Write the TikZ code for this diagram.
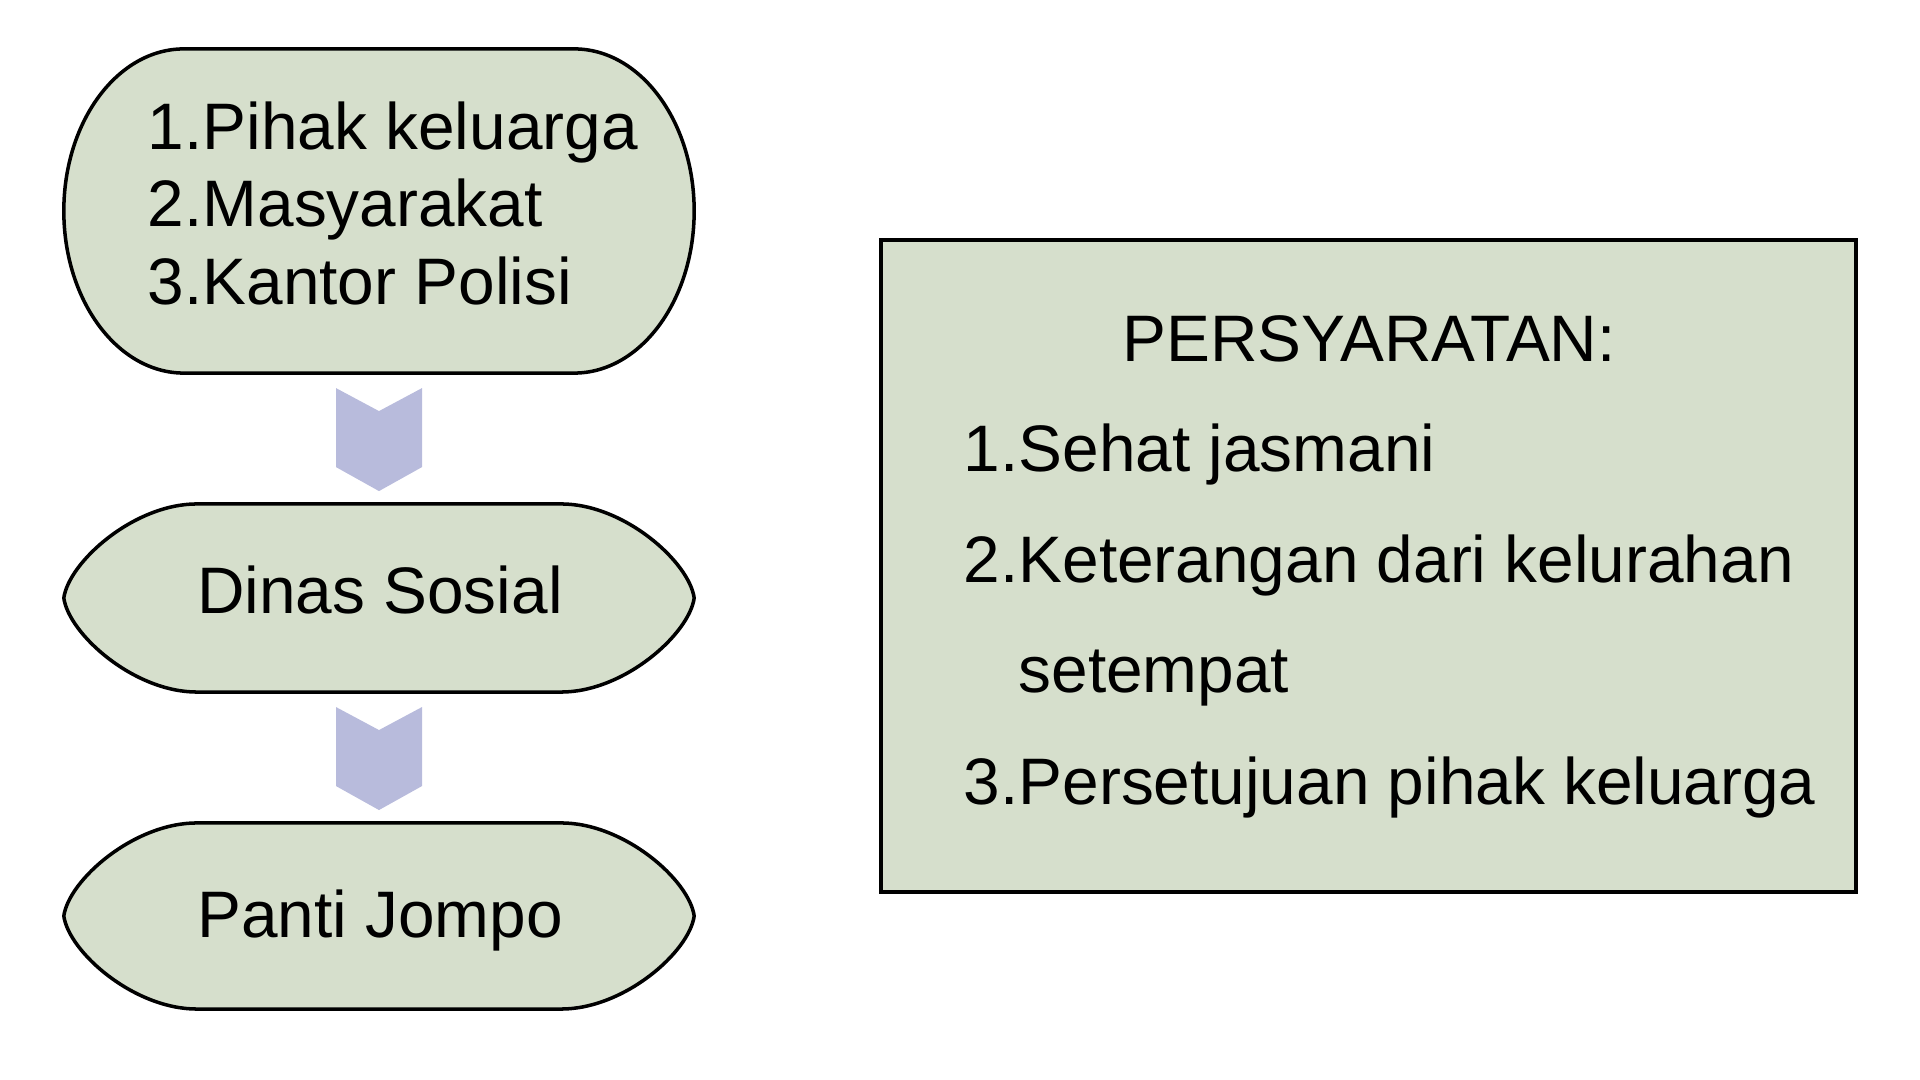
\documentclass[tikz,border=0pt]{standalone}
\usepackage{fontspec}
\setmainfont{Liberation Sans}
\definecolor{sage}{HTML}{D6DFCC}
\definecolor{lavender}{HTML}{B8BBDC}

\tikzset{
  frame/.style={inner sep=0pt, outer sep=0pt},
  termbox/.style={draw=black, line width=1pt, fill=sage},
  txt/.style={inner sep=0pt, font=\fontsize{18.7}{22}\selectfont},
}
% flat top and bottom, elliptical sides
\newcommand{\termshape}[3]{\draw[termbox] ([xshift=#2]#1.north west) -- ([xshift=-#2]#1.north east)
  arc[start angle=90, end angle=-90, x radius=#2, y radius=#3] -- ([xshift=#2]#1.south west)
  arc[start angle=270, end angle=90, x radius=#2, y radius=#3] -- cycle;}
% flat top and bottom, sides drawn to a soft point
\newcommand{\pointshape}[1]{\draw[termbox] ([xshift=1.33cm]#1.north west) -- ([xshift=-1.33cm]#1.north east)
  .. controls ([xshift=-0.7cm]#1.north east) and ([shift={(-0.05cm,0.36cm)}]#1.east) .. (#1.east)
  .. controls ([shift={(-0.05cm,-0.36cm)}]#1.east) and ([xshift=-0.7cm]#1.south east) .. ([xshift=-1.33cm]#1.south east)
  -- ([xshift=1.33cm]#1.south west)
  .. controls ([xshift=0.7cm]#1.south west) and ([shift={(0.05cm,-0.36cm)}]#1.west) .. (#1.west)
  .. controls ([shift={(0.05cm,0.36cm)}]#1.west) and ([xshift=0.7cm]#1.north west) .. ([xshift=1.33cm]#1.north west)
  -- cycle;}
% notched arrow below a node
\newcommand{\panah}[1]{\fill[lavender] ([yshift=-0.15cm]#1) ++(-43,0) -- ++(43,-23) -- ++(43,23)
  -- ++(0,-79) -- ++(-43,-24) -- ++(-43,24) -- cycle;}

\begin{document}
\begin{tikzpicture}[x=0.01cm, y=0.01cm]
\useasboundingbox (0,0) rectangle (1920,-1080);

% left column
\node[frame, minimum width=6.3cm, minimum height=3.24cm] (sumber) at (379,-211) {};
\node[frame, minimum width=6.3cm, minimum height=1.88cm] (dinas) at (379,-598) {};
\node[frame, minimum width=6.3cm, minimum height=1.86cm] (panti) at (379,-916) {};
\termshape{sumber}{1.2cm}{1.62cm}
\pointshape{dinas}
\pointshape{panti}
\panah{sumber.south}
\panah{dinas.south}

\node[txt, anchor=base west] (sumber1) at (147,-150) {\makebox[0.55cm][l]{1.}Pihak keluarga};
\node[txt, anchor=base west] (sumber2) at (147,-227) {\makebox[0.55cm][l]{2.}Masyarakat};
\node[txt, anchor=base west] (sumber3) at (147,-305) {\makebox[0.55cm][l]{3.}Kantor Polisi};
\node[txt, anchor=base] (dinastxt) at (380,-614) {Dinas Sosial};
\node[txt, anchor=base] (pantitxt) at (380,-938) {Panti Jompo};

% requirements box
\node[frame, draw=black, line width=1.1pt, fill=sage, minimum width=9.75cm, minimum height=6.52cm] (syarat) at (1368.5,-566) {};
\node[txt, anchor=base] (judul) at (1369,-362) {PERSYARATAN:};
\node[txt, anchor=base west] (syarat1) at (963,-472) {\makebox[0.55cm][l]{1.}Sehat jasmani};
\node[txt, anchor=base west] (syarat2) at (963,-583) {\makebox[0.55cm][l]{2.}Keterangan dari kelurahan};
\node[txt, anchor=base west] (syarat2b) at (1018,-693) {setempat};
\node[txt, anchor=base west] (syarat3) at (963,-805) {\makebox[0.55cm][l]{3.}Persetujuan pihak keluarga};
\end{tikzpicture}
\end{document}
